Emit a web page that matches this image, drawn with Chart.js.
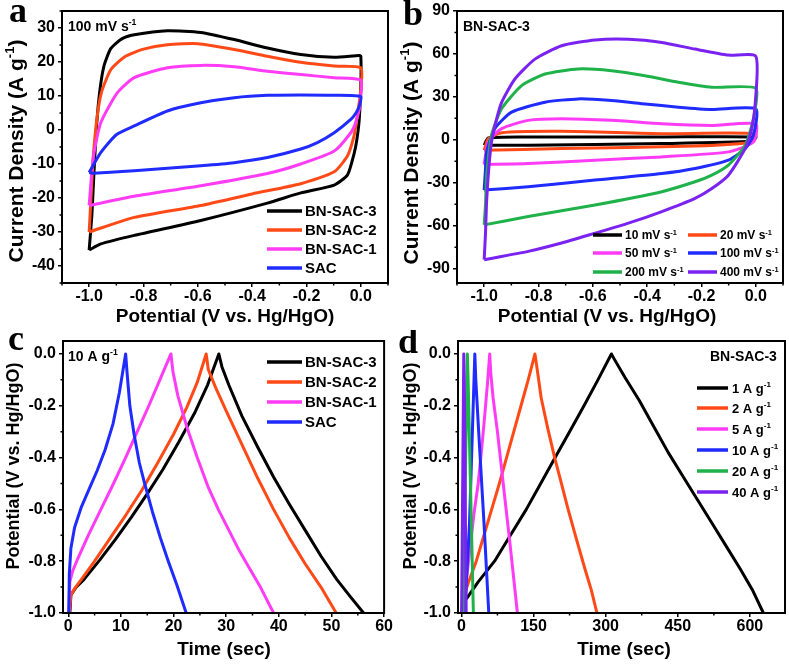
<!DOCTYPE html>
<html>
<head>
<meta charset="utf-8">
<script src="https://cdn.jsdelivr.net/npm/chart.js@4.4.0/dist/chart.umd.min.js"></script>
<style>
  body { margin: 0; background: #fff; }
  #wrap { position: relative; width: 789px; height: 665px; }
  canvas { position: absolute; }
</style>
</head>
<body>
<div id="wrap">
  <canvas id="pa" width="395" height="330" style="left:0;top:0"></canvas>
  <canvas id="pb" width="394" height="330" style="left:395px;top:0"></canvas>
  <canvas id="pc" width="395" height="335" style="left:0;top:330px"></canvas>
  <canvas id="pd" width="394" height="335" style="left:395px;top:330px"></canvas>
</div>
<script>
// ---- data ----
// panel a : CV at 100 mV/s, [potential V, current A/g]
const cvA_bnsac3 = [[-1.0,-35.3],[-0.99,-25],[-0.982,-12],[-0.972,2],[-0.96,12],[-0.945,19],[-0.92,24],[-0.88,26.8],[-0.834,28],[-0.712,29.2],[-0.589,28.7],[-0.466,26.6],[-0.344,24.1],[-0.221,22.2],[-0.098,21.4],[-0.006,21.9],[0,21.7],[0,13],[-0.006,3],[-0.015,-3],[-0.025,-7],[-0.049,-13.2],[-0.098,-16.2],[-0.221,-18.5],[-0.344,-21.5],[-0.589,-26.6],[-0.834,-31],[-0.957,-33.5],[-1.0,-35.3]];
const cvA_bnsac2 = [[-1.0,-30],[-0.992,-18],[-0.985,-8],[-0.972,3],[-0.955,11],[-0.92,17.8],[-0.87,21.5],[-0.8,23.8],[-0.712,25.1],[-0.6,25.4],[-0.466,23.7],[-0.344,21.7],[-0.221,19.9],[-0.098,18.8],[0,18.3],[0,12],[-0.006,8],[-0.015,3],[-0.025,-1.7],[-0.049,-7.6],[-0.098,-12.3],[-0.221,-15.8],[-0.4,-18.8],[-0.589,-22.2],[-0.834,-25.7],[-1.0,-30]];
const cvA_bnsac1 = [[-1.0,-22.2],[-0.99,-12],[-0.982,-6.6],[-0.957,2.2],[-0.896,11],[-0.834,15.4],[-0.712,18.3],[-0.589,19],[-0.466,18.6],[-0.344,17.3],[-0.221,16.3],[-0.098,15.4],[0,14.7],[0,10],[-0.006,6],[-0.02,2],[-0.037,-0.8],[-0.098,-6.2],[-0.221,-10],[-0.344,-12.8],[-0.589,-16.4],[-0.834,-19.5],[-1.0,-22.2]];
const cvA_sac = [[-1.0,-12.5],[-0.957,-6.6],[-0.9,-1.4],[-0.834,1.2],[-0.712,5.6],[-0.589,8],[-0.466,9.5],[-0.344,10.2],[-0.221,10.3],[-0.098,10.2],[0,9.8],[-0.006,7],[-0.018,5],[-0.037,3.1],[-0.098,-0.8],[-0.16,-3.7],[-0.221,-5.6],[-0.344,-8.1],[-0.466,-9.6],[-0.589,-10.5],[-0.834,-12],[-0.982,-12.7],[-1.0,-12.5]];

// panel b : CV of BN-SAC-3 at several scan rates
const cvB_10 = [[-1.0,-3.8],[-0.985,1.3],[-0.838,2],[-0.346,2],[0,2],[-0.015,-1],[-0.346,-2.6],[-0.838,-3.8],[-1.0,-3.8]];
const cvB_20 = [[-1.0,-7.3],[-0.985,0.8],[-0.936,5],[-0.715,6],[-0.346,4.3],[0,4.3],[-0.015,-1.5],[-0.224,-4.3],[-0.715,-6.1],[-1.0,-7.3]];
const cvB_50 = [[-1.0,-17.2],[-0.985,-1.5],[-0.936,7.8],[-0.838,13.6],[-0.715,14.7],[-0.53,13.6],[-0.346,11.2],[-0.162,10.1],[0,11.2],[-0.009,-1.5],[-0.101,-8.4],[-0.346,-11.9],[-0.592,-14.2],[-0.838,-16.6],[-1.0,-17.2]];
const cvB_100 = [[-1.0,-35.1],[-0.995,-20],[-0.991,-8.4],[-0.961,7.8],[-0.899,19.4],[-0.776,26.3],[-0.654,28.6],[-0.531,27.5],[-0.408,25.1],[-0.285,22.8],[-0.162,21.2],[0,21.7],[-0.009,3.1],[-0.039,-6.1],[-0.101,-14.2],[-0.224,-20],[-0.346,-23.5],[-0.592,-28.1],[-0.838,-32.8],[-1.0,-35.1]];
const cvB_200 = [[-1.0,-59.4],[-0.995,-45],[-0.991,-24.7],[-0.973,3.1],[-0.936,21.7],[-0.862,37.9],[-0.776,46],[-0.654,49.5],[-0.531,48.3],[-0.408,44.8],[-0.285,40.2],[-0.162,36.7],[0,36],[-0.009,14.7],[-0.039,-3.8],[-0.101,-17.7],[-0.162,-24.7],[-0.224,-29.3],[-0.346,-36.2],[-0.592,-45.5],[-0.838,-53.6],[-1.0,-59.4]];
const cvB_400 = [[-1.0,-83.7],[-0.995,-65],[-0.991,-43],[-0.983,-20],[-0.973,-1.5],[-0.955,14],[-0.936,26],[-0.887,42.5],[-0.813,56.4],[-0.715,65.7],[-0.592,69.8],[-0.469,70.3],[-0.346,68],[-0.224,63.4],[-0.101,59.2],[0,58.3],[-0.002,26],[-0.015,7.8],[-0.039,-6],[-0.101,-24.7],[-0.162,-34],[-0.224,-40.9],[-0.346,-50.1],[-0.469,-58.2],[-0.592,-65.2],[-0.715,-72.1],[-0.838,-77.9],[-1.0,-83.7]];

// panel c : GCD at 10 A/g, [time s, potential V]
const gcdC_bnsac3 = [[0.3,-1.0],[0.5,-0.93],[1.5,-0.9],[3,-0.87],[6,-0.795],[9,-0.715],[12,-0.63],[15,-0.54],[18,-0.445],[21,-0.34],[24,-0.228],[26.5,-0.118],[28.6,0],[29.2,-0.05],[30.5,-0.12],[33,-0.24],[36,-0.36],[39,-0.475],[42,-0.58],[45,-0.68],[48,-0.78],[51,-0.87],[53.5,-0.935],[56.1,-1.0]];
const gcdC_bnsac2 = [[0.2,-1.0],[0.5,-0.93],[1.4,-0.9],[2.5,-0.87],[5,-0.8],[8,-0.71],[11,-0.62],[14,-0.525],[17,-0.42],[20,-0.31],[22.5,-0.207],[24.5,-0.11],[26.2,0],[26.6,-0.06],[28,-0.13],[30,-0.22],[33,-0.35],[36,-0.48],[39,-0.6],[42,-0.71],[45,-0.81],[48,-0.9],[50.9,-1.0]];
const gcdC_bnsac1 = [[0.1,-1.0],[0.3,-0.88],[0.8,-0.84],[1.6,-0.8],[3.8,-0.7],[6.2,-0.6],[8.6,-0.5],[10.9,-0.4],[13.1,-0.3],[15.3,-0.2],[17.4,-0.1],[19.5,0],[19.9,-0.07],[20.8,-0.16],[22.5,-0.28],[24.5,-0.4],[26.5,-0.51],[28.5,-0.6],[30.5,-0.68],[32.5,-0.76],[34.5,-0.83],[36.5,-0.9],[39,-1.0]];
const gcdC_sac = [[0.1,-1.0],[0.2,-0.85],[0.5,-0.75],[1.2,-0.67],[2.5,-0.59],[4,-0.52],[5.5,-0.45],[7,-0.37],[8.5,-0.27],[9.7,-0.15],[10.9,0],[11.2,-0.08],[11.7,-0.2],[12.5,-0.31],[13.5,-0.42],[14.5,-0.5],[16,-0.61],[17.5,-0.71],[19,-0.8],[20.6,-0.89],[22.4,-1.0]];

// panel d : GCD of BN-SAC-3 at several current densities
const gcdD_1 = [[2,-1.0],[5,-0.96],[35,-0.88],[69,-0.8],[102,-0.7],[135,-0.6],[165,-0.5],[195,-0.4],[225,-0.3],[255,-0.2],[284,-0.1],[312,0],[318,-0.02],[340,-0.09],[370,-0.18],[400,-0.28],[430,-0.38],[460,-0.47],[490,-0.56],[520,-0.65],[550,-0.74],[580,-0.83],[605,-0.91],[628,-1.0]];
const gcdD_2 = [[1,-1.0],[3,-0.95],[15,-0.88],[31,-0.8],[47,-0.7],[63,-0.6],[79,-0.5],[94,-0.4],[109,-0.3],[124,-0.2],[139,-0.1],[153,0],[157,-0.05],[166,-0.17],[180,-0.29],[194,-0.4],[208,-0.5],[222,-0.6],[240,-0.72],[257,-0.83],[270,-0.91],[282,-1.0]];
const gcdD_5 = [[3,-1.0],[10,-0.88],[18,-0.75],[26,-0.62],[35,-0.5],[42,-0.37],[48,-0.25],[54,-0.12],[59,0],[61,-0.07],[66,-0.17],[75,-0.3],[87,-0.5],[101,-0.73],[116.5,-1.0]];
const gcdD_10 = [[7,-1.0],[17,-0.65],[28,0],[30,-0.1],[36,-0.3],[47,-0.65],[57,-1.0]];
const gcdD_20 = [[3.5,-1.0],[12.5,0],[14,-0.1],[25,-1.0]];
const gcdD_40 = [[0.5,-1.0],[5,0],[6,-0.1],[10,-1.0]];

// labels
const labelsA = ['BN-SAC-3', 'BN-SAC-2', 'BN-SAC-1', 'SAC'];
const labelsB = ['10 mV s^-1', '20 mV s^-1', '50 mV s^-1', '100 mV s^-1', '200 mV s^-1', '400 mV s^-1'];
const labelsC = ['BN-SAC-3', 'BN-SAC-2', 'BN-SAC-1', 'SAC'];
const labelsD = ['1 A g^-1', '2 A g^-1', '5 A g^-1', '10 A g^-1', '20 A g^-1', '40 A g^-1'];

// tick values
const potTicks = [-1.0, -0.8, -0.6, -0.4, -0.2, 0.0];
const curTicksA = [-40, -30, -20, -10, 0, 10, 20, 30];
const curTicksB = [-90, -60, -30, 0, 30, 60, 90];
const timeTicksC = [0, 10, 20, 30, 40, 50, 60];
const timeTicksD = [0, 150, 300, 450, 600];
const volTicks = [-1.0, -0.8, -0.6, -0.4, -0.2, 0.0];

// colours
const BLACK = '#000000', ORANGE = '#ff4a17', MAGENTA = '#ff3cf5', BLUE = '#1f2bff', GREEN = '#1fb24a', VIOLET = '#7a22f0';

const FONT = '"Liberation Sans", Arial, sans-serif';

// draws text where parts between ^ ^ are superscripts
function drawRich(ctx, text, x, y, size, align) {
  const parts = text.split('^');
  const widths = parts.map((p, i) => {
    ctx.font = 'bold ' + (i % 2 ? size * 0.62 : size) + 'px ' + FONT;
    return ctx.measureText(p).width;
  });
  const total = widths.reduce((s, w) => s + w, 0);
  let cx = align === 'center' ? x - total / 2 : x;
  parts.forEach((p, i) => {
    ctx.font = 'bold ' + (i % 2 ? size * 0.62 : size) + 'px ' + FONT;
    ctx.fillText(p, cx, i % 2 ? y - size * 0.4 : y);
    cx += widths[i];
  });
}

function minorValues(scale, majors) {
  const step = majors[1] - majors[0];
  const out = [];
  for (let v = majors[0] - step / 2; v >= scale.min - 1e-9; v -= step) out.push(v);
  for (let v = majors[0] + step / 2; v <= scale.max + 1e-9; v += step) out.push(v);
  return out;
}

const decor = {
  id: 'decor',
  afterDraw(chart, args, o) {
    const ctx = chart.ctx, a = chart.chartArea;
    const xs = chart.scales.x, ys = chart.scales.y;
    ctx.save();
    ctx.strokeStyle = '#000';
    ctx.fillStyle = '#000';
    // minor ticks
    ctx.lineWidth = 1.5;
    ctx.beginPath();
    minorValues(xs, o.xTicks).forEach(v => {
      const p = xs.getPixelForValue(v);
      ctx.moveTo(p, a.bottom); ctx.lineTo(p, a.bottom + 2.5);
    });
    minorValues(ys, o.yTicks).forEach(v => {
      const p = ys.getPixelForValue(v);
      ctx.moveTo(a.left, p); ctx.lineTo(a.left - 2.5, p);
    });
    ctx.stroke();
    // frame
    ctx.lineWidth = 2;
    ctx.strokeRect(a.left, a.top, a.right - a.left, a.bottom - a.top);
    // panel letter
    ctx.textBaseline = 'alphabetic';
    ctx.textAlign = 'left';
    ctx.font = 'bold 36px "Liberation Serif", "Times New Roman", serif';
    ctx.fillText(o.letter[0], o.letter[1], o.letter[2]);
    // axis titles
    const xt = o.xTitle;
    drawRich(ctx, xt.text, xt.x, xt.y + xt.size * 0.36, xt.size, 'center');
    const yt = o.yTitle;
    ctx.save();
    ctx.translate(yt.x, yt.y);
    ctx.rotate(-Math.PI / 2);
    drawRich(ctx, yt.text, 0, yt.size * 0.36, yt.size, 'center');
    ctx.restore();
    // note in the corner
    const n = o.note;
    drawRich(ctx, n.text, n.x, n.y, n.size, 'left');
    // legend
    const lg = o.legend;
    chart.data.datasets.forEach((ds, i) => {
      const s = lg.slots[i];
      ctx.strokeStyle = ds.borderColor;
      ctx.lineWidth = 3.5;
      ctx.beginPath();
      ctx.moveTo(s[0], s[3]); ctx.lineTo(s[1], s[3]);
      ctx.stroke();
      ctx.fillStyle = '#000';
      drawRich(ctx, ds.label, s[2], s[3] + lg.size * 0.36, lg.size, 'left');
    });
    ctx.restore();
  }
};

function makePanel(p) {
  const canvas = document.getElementById(p.id);
  const W = canvas.width, H = canvas.height;
  const tickFont = { family: FONT, size: 16, weight: 'bold', lineHeight: 1 };
  const n = p.series.length;
  return new Chart(canvas, {
    type: 'scatter',
    data: {
      datasets: p.series.map((s, i) => ({
        label: s.label,
        data: s.pts.map(q => ({ x: q[0], y: q[1] })),
        borderColor: s.color,
        backgroundColor: s.color,
        borderWidth: 3,
        borderJoinStyle: 'round',
        showLine: true,
        pointRadius: 0,
        tension: p.tension,
        fill: false,
        order: n - i
      }))
    },
    options: {
      responsive: false,
      animation: false,
      events: [],
      layout: { padding: { left: 0, top: p.area.top, right: W - p.area.right, bottom: 0 } },
      plugins: {
        legend: { display: false },
        tooltip: { enabled: false },
        decor: p.decor
      },
      scales: {
        x: {
          type: 'linear',
          min: p.x.min, max: p.x.max,
          afterBuildTicks: sc => { sc.ticks = p.x.ticks.map(v => ({ value: v })); },
          afterFit: sc => { sc.height = H - p.area.bottom; },
          ticks: { font: tickFont, color: '#000', padding: 2, maxRotation: 0, autoSkip: false, callback: p.x.fmt },
          grid: { drawOnChartArea: false, tickLength: 4, color: '#000', lineWidth: 1.5 },
          border: { display: false }
        },
        y: {
          type: 'linear',
          min: p.y.min, max: p.y.max,
          afterBuildTicks: sc => { sc.ticks = p.y.ticks.map(v => ({ value: v })); },
          afterFit: sc => { sc.width = p.area.left; },
          ticks: { font: tickFont, color: '#000', padding: 3, autoSkip: false, callback: p.y.fmt },
          grid: { drawOnChartArea: false, tickLength: 4, color: '#000', lineWidth: 1.5 },
          border: { display: false }
        }
      }
    },
    plugins: [decor]
  });
}

const fmt1 = v => Number(v).toFixed(1);
const fmt0 = v => String(Math.round(v));

makePanel({
  id: 'pa',
  tension: 0.2,
  area: { left: 62, top: 8, right: 388, bottom: 283 },
  x: { min: -1.1, max: 0.1, ticks: potTicks, fmt: fmt1 },
  y: { min: -45, max: 35, ticks: curTicksA, fmt: fmt0 },
  series: [
    { label: labelsA[0], color: BLACK, pts: cvA_bnsac3 },
    { label: labelsA[1], color: ORANGE, pts: cvA_bnsac2 },
    { label: labelsA[2], color: MAGENTA, pts: cvA_bnsac1 },
    { label: labelsA[3], color: BLUE, pts: cvA_sac }
  ],
  decor: {
    xTicks: potTicks, yTicks: curTicksA,
    letter: ['a', 9, 22],
    xTitle: { text: 'Potential (V vs. Hg/HgO)', x: 225, y: 315, size: 19 },
    yTitle: { text: 'Current Density (A g^-1^)', x: 15, y: 151, size: 21 },
    note: { text: '100 mV s^-1^', x: 68, y: 31, size: 14 },
    legend: { size: 15, slots: [[267, 302, 305, 211], [267, 302, 305, 230], [267, 302, 305, 249], [267, 302, 305, 268]] }
  }
});

makePanel({
  id: 'pb',
  tension: 0.2,
  area: { left: 62, top: 10, right: 388, bottom: 283 },
  x: { min: -1.1, max: 0.1, ticks: potTicks, fmt: fmt1 },
  y: { min: -100, max: 90, ticks: curTicksB, fmt: fmt0 },
  series: [
    { label: labelsB[0], color: BLACK, pts: cvB_10 },
    { label: labelsB[1], color: ORANGE, pts: cvB_20 },
    { label: labelsB[2], color: MAGENTA, pts: cvB_50 },
    { label: labelsB[3], color: BLUE, pts: cvB_100 },
    { label: labelsB[4], color: GREEN, pts: cvB_200 },
    { label: labelsB[5], color: VIOLET, pts: cvB_400 }
  ],
  decor: {
    xTicks: potTicks, yTicks: curTicksB,
    letter: ['b', 8, 25],
    xTitle: { text: 'Potential (V vs. Hg/HgO)', x: 212, y: 315, size: 19 },
    yTitle: { text: 'Current Density (A g^-1^)', x: 15, y: 153, size: 21 },
    note: { text: 'BN-SAC-3', x: 68, y: 31, size: 14 },
    legend: { size: 12, slots: [[198, 227, 230, 235], [293, 322, 325, 235], [198, 227, 230, 253], [293, 322, 325, 253], [198, 227, 230, 272], [293, 322, 325, 272]] }
  }
});

makePanel({
  id: 'pc',
  tension: 0,
  area: { left: 63, top: 9, right: 386, bottom: 283 },
  x: { min: -1, max: 60, ticks: timeTicksC, fmt: fmt0 },
  y: { min: -1.0, max: 0.05, ticks: volTicks, fmt: fmt1 },
  series: [
    { label: labelsC[0], color: BLACK, pts: gcdC_bnsac3 },
    { label: labelsC[1], color: ORANGE, pts: gcdC_bnsac2 },
    { label: labelsC[2], color: MAGENTA, pts: gcdC_bnsac1 },
    { label: labelsC[3], color: BLUE, pts: gcdC_sac }
  ],
  decor: {
    xTicks: timeTicksC, yTicks: volTicks,
    letter: ['c', 8, 20],
    xTitle: { text: 'Time (sec)', x: 224, y: 318, size: 19 },
    yTitle: { text: 'Potential (V vs. Hg/HgO)', x: 13, y: 136, size: 18 },
    note: { text: '10 A g^-1^', x: 68, y: 31, size: 14 },
    legend: { size: 15, slots: [[267, 302, 305, 32], [267, 302, 305, 52], [267, 302, 305, 72], [267, 302, 305, 92]] }
  }
});

makePanel({
  id: 'pd',
  tension: 0,
  area: { left: 63, top: 9, right: 390, bottom: 283 },
  x: { min: -7, max: 673, ticks: timeTicksD, fmt: fmt0 },
  y: { min: -1.0, max: 0.05, ticks: volTicks, fmt: fmt1 },
  series: [
    { label: labelsD[0], color: BLACK, pts: gcdD_1 },
    { label: labelsD[1], color: ORANGE, pts: gcdD_2 },
    { label: labelsD[2], color: MAGENTA, pts: gcdD_5 },
    { label: labelsD[3], color: BLUE, pts: gcdD_10 },
    { label: labelsD[4], color: GREEN, pts: gcdD_20 },
    { label: labelsD[5], color: VIOLET, pts: gcdD_40 }
  ],
  decor: {
    xTicks: timeTicksD, yTicks: volTicks,
    letter: ['d', 3, 23],
    xTitle: { text: 'Time (sec)', x: 229, y: 318, size: 19 },
    yTitle: { text: 'Potential (V vs. Hg/HgO)', x: 15, y: 136, size: 18 },
    note: { text: 'BN-SAC-3', x: 315, y: 31, size: 14 },
    legend: { size: 13, slots: [[302, 333, 337, 58], [302, 333, 337, 78], [302, 333, 337, 99], [302, 333, 337, 120], [302, 333, 337, 141], [302, 333, 337, 162]] }
  }
});
</script>
</body>
</html>
